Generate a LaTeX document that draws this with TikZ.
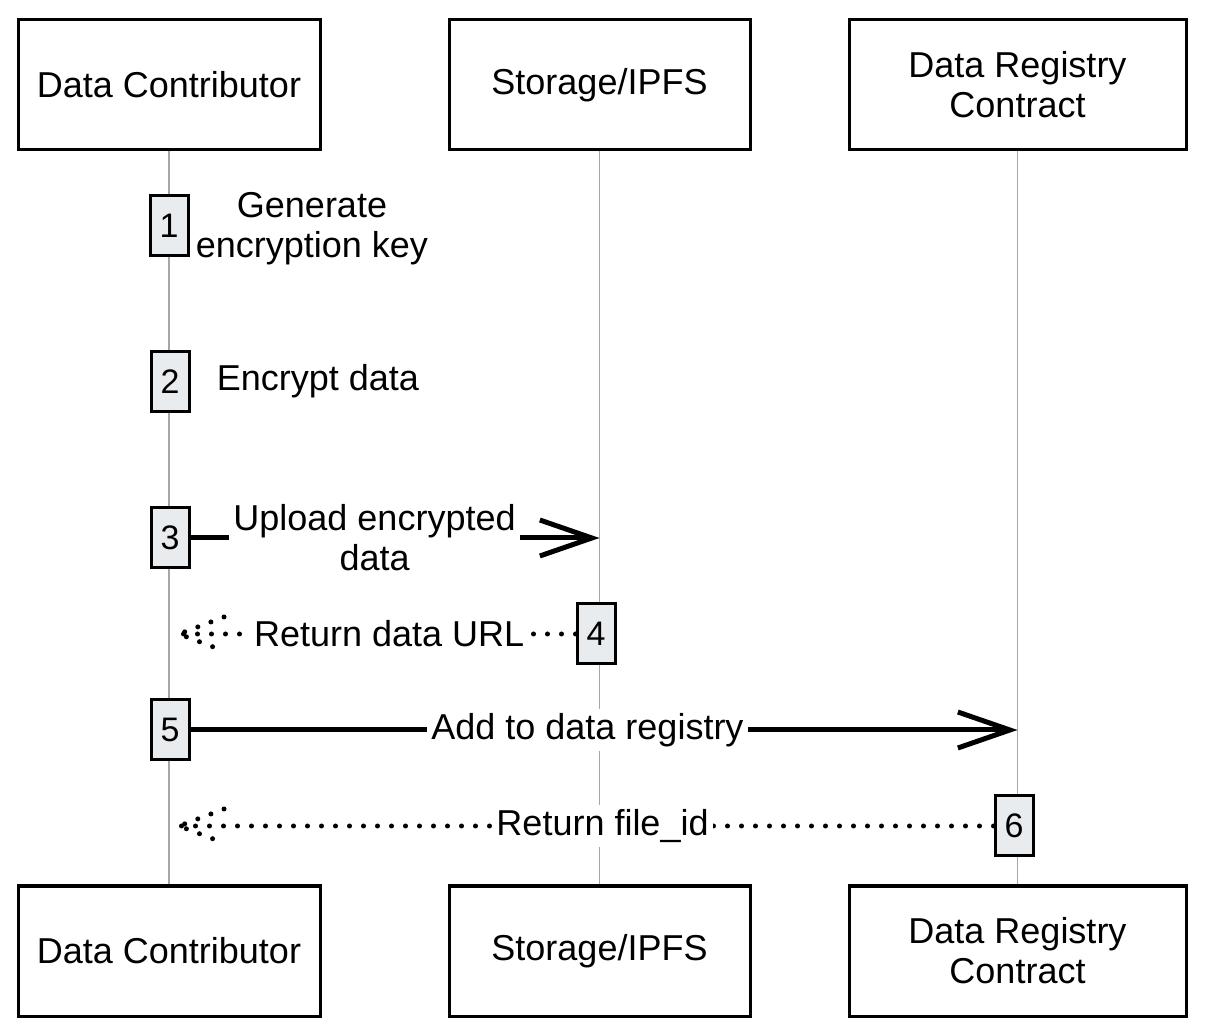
\documentclass[tikz,border=0pt]{standalone}
\usepackage{fontspec}
\setmainfont{Liberation Sans}
\usetikzlibrary{arrows.meta}
\definecolor{actfill}{HTML}{E9ECEF}
\begin{document}
\begin{tikzpicture}[x=0.5pt,y=-0.5pt,
		font=\fontsize{18}{20}\selectfont,
		actor/.style={draw=black,line width=1.5pt,fill=white,minimum height=65pt,align=center},
		act/.style={draw=black,line width=1.5pt,fill=actfill,minimum width=19pt,minimum height=30pt,inner sep=0pt,font=\fontsize{17}{18}\selectfont},
		life/.style={draw=black!35,line width=0.8pt},
		msg/.style={line width=2.5pt,-{Straight Barb[length=26pt,width=18pt]}},
		ret/.style={line width=2.5pt,line cap=round,dash pattern=on 0pt off 7pt},
		lbl/.style={fill=white,inner sep=2pt,align=center}]
	\useasboundingbox (0,0) rectangle (1205,1036);
	% khung tren va duoi
	\node[actor,minimum width=151pt] (dc) at (169,85) {Data Contributor};
	\node[actor,minimum width=150.5pt] (st) at (599.5,85) {Storage/IPFS};
	\node[actor,minimum width=168.5pt] (dr) at (1017.5,85) {Data Registry\\Contract};
	\node[actor,minimum width=151pt] (dcb) at (169,951) {Data Contributor};
	\node[actor,minimum width=150.5pt] (stb) at (599.5,951) {Storage/IPFS};
	\node[actor,minimum width=168.5pt] (drb) at (1017.5,951) {Data Registry\\Contract};
	% duong song
	\draw[life] (dc.south) -- (dcb.north);
	\draw[life] (st.south) -- (stb.north);
	\draw[life] (dr.south) -- (drb.north);
	% cac buoc
	\node[act] (a1) at (169,226) {1};
	\node[act] (a2) at (170,382) {2};
	\node[act] (a3) at (170,538) {3};
	\node[act] (a4) at (596,634) {4};
	\node[act] (a5) at (170,730) {5};
	\node[act] (a6) at (1014,826) {6};
	\node[align=center] (t1) at (312,229) {Generate\\encryption key};
	\node (t2) at (318,381) {Encrypt data};
	\coordinate (e3) at (a3.east -| st.south);
	\coordinate (e5) at (a5.east -| dr.south);
	\coordinate (r4) at ([xshift=5pt]a4.west -| dc.south);
	\coordinate (r6) at ([xshift=5pt]a6.west -| dc.south);
	\draw[msg] (a3.east) -- node[lbl,pos=0.45]{Upload encrypted\\data} (e3);
	\draw[ret] (a4.west) -- node[lbl,pos=0.47]{Return data URL} (r4);
	\draw[ret] ([shift={(45,-17)}]r4) -- (r4) -- ++(45,17);
	\draw[msg] (a5.east) -- node[lbl,pos=0.48]{Add to data registry} (e5);
	\draw[ret] (a6.west) -- node[lbl,pos=0.48]{Return file\_id} (r6);
	\draw[ret] ([shift={(45,-17)}]r6) -- (r6) -- ++(45,17);
\end{tikzpicture}
\end{document}
